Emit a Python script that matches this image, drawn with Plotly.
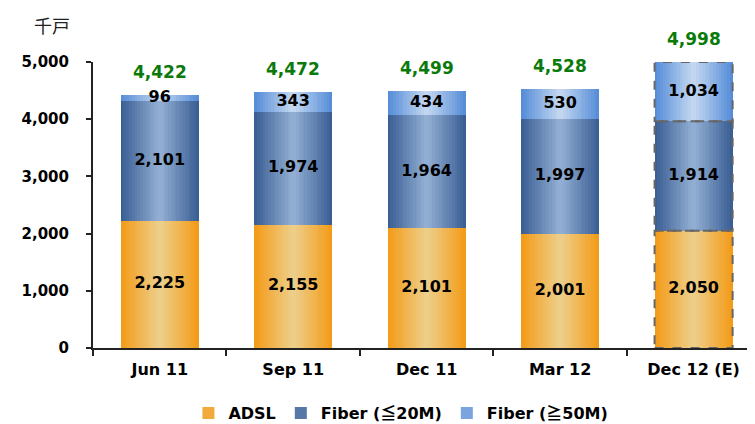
import plotly.graph_objects as go

# data
quarters = ["Jun 11", "Sep 11", "Dec 11", "Mar 12", "Dec 12 (E)"]
adsl = [2225, 2155, 2101, 2001, 2050]
fiber_20 = [2101, 1974, 1964, 1997, 1914]
fiber_50 = [96, 343, 434, 530, 1034]
totals = [4422, 4472, 4499, 4528, 4998]
estimate_idx = 4

BAR_W = 0.585
N_LAYERS = 14
FONT = "DejaVu Sans"
CJK = '<span style="font-family:Noto Sans CJK JP">%s</span>'

series = [
    ("ADSL", adsl, (243, 156, 26), (237, 210, 145)),
    ("Fiber (" + CJK % "≦" + "20M)", fiber_20, (59, 95, 149), (152, 180, 215)),
    ("Fiber (" + CJK % "≧" + "50M)", fiber_50, (88, 142, 216), (202, 220, 242)),
]


def mix(c1, c2, t):
    return "rgb(%d,%d,%d)" % tuple(round(a + (b - a) * t) for a, b in zip(c1, c2))


fig = go.Figure()

bases = [0] * len(quarters)
mids = []
for name, vals, edge, centre in series:
    # fake a horizontal gradient: stacked layers of narrower, lighter bars
    for k in range(N_LAYERS):
        t = k / N_LAYERS
        fig.add_trace(go.Bar(
            x=quarters, y=vals, base=bases,
            width=BAR_W * (1 - t),
            marker=dict(color=mix(edge, centre, t), line=dict(width=0)),
            name=name, legendgroup=name,
            showlegend=(k == N_LAYERS // 3),
            hoverinfo="skip",
        ))
    mids.append([b + v / 2 for b, v in zip(bases, vals)])
    bases = [b + v for b, v in zip(bases, vals)]

# segment value labels
for (name, vals, edge, centre), ys in zip(series, mids):
    fig.add_trace(go.Scatter(
        x=quarters, y=ys, mode="text",
        text=[f"{v:,}" for v in vals],
        textfont=dict(family=FONT, size=16, color="black", weight="bold"),
        showlegend=False, hoverinfo="skip", cliponaxis=False,
    ))

# totals above the bars
for q, tot in zip(quarters, totals):
    fig.add_annotation(
        x=q, y=tot, text=f"{tot:,}", showarrow=False,
        yanchor="bottom", yshift=11,
        font=dict(family=FONT, size=17, color="#0a7a0a", weight="bold"),
    )

# dashed outline for the estimate bar
lo = 0
for name, vals, edge, centre in series:
    hi = lo + vals[estimate_idx]
    fig.add_shape(
        type="rect", xref="x", yref="y",
        x0=estimate_idx - BAR_W / 2, x1=estimate_idx + BAR_W / 2,
        y0=lo, y1=hi,
        line=dict(color="#666666", width=2, dash="dash"),
    )
    lo = hi

fig.add_annotation(
    xref="paper", yref="paper", x=-0.062, y=1.13,
    text="千戸", showarrow=False, xanchor="center", yanchor="middle",
    font=dict(family="Noto Sans CJK JP", size=18, color="#222222"),
)

# page body has an 8px margin, so the figure is 8px smaller than the window
fig.update_layout(
    width=747, height=416,
    margin=dict(l=85, r=0, t=54, b=76, autoexpand=False),
    barmode="overlay",
    bargap=0,
    paper_bgcolor="white",
    plot_bgcolor="rgba(0,0,0,0)",
    font=dict(family=FONT, color="black"),
    legend=dict(
        orientation="h", xref="container", yref="container",
        x=0.526, xanchor="center", y=0.026, yanchor="middle",
        font=dict(family=FONT, size=16, color="black", weight="bold"),
        traceorder="normal", itemwidth=30,
    ),
)

fig.update_xaxes(
    type="category", range=[-0.5, 4.46], automargin=False,
    showline=True, linecolor="#222222", linewidth=2,
    ticks="outside", ticklen=6, tickcolor="#222222", tickwidth=1.5,
    tickson="boundaries", ticklabelstandoff=6,
    tickfont=dict(family=FONT, size=16, color="black", weight="bold"),
    showgrid=False, zeroline=False,
)
fig.update_yaxes(
    range=[0, 5000], dtick=1000, tickformat=",", automargin=False,
    showline=True, linecolor="#222222", linewidth=2,
    ticks="outside", ticklen=5, tickcolor="#222222", tickwidth=1.5,
    ticklabelstandoff=14,
    tickfont=dict(family=FONT, size=15, color="black", weight="bold"),
    showgrid=False, zeroline=False,
)

fig.write_html("out.html")
